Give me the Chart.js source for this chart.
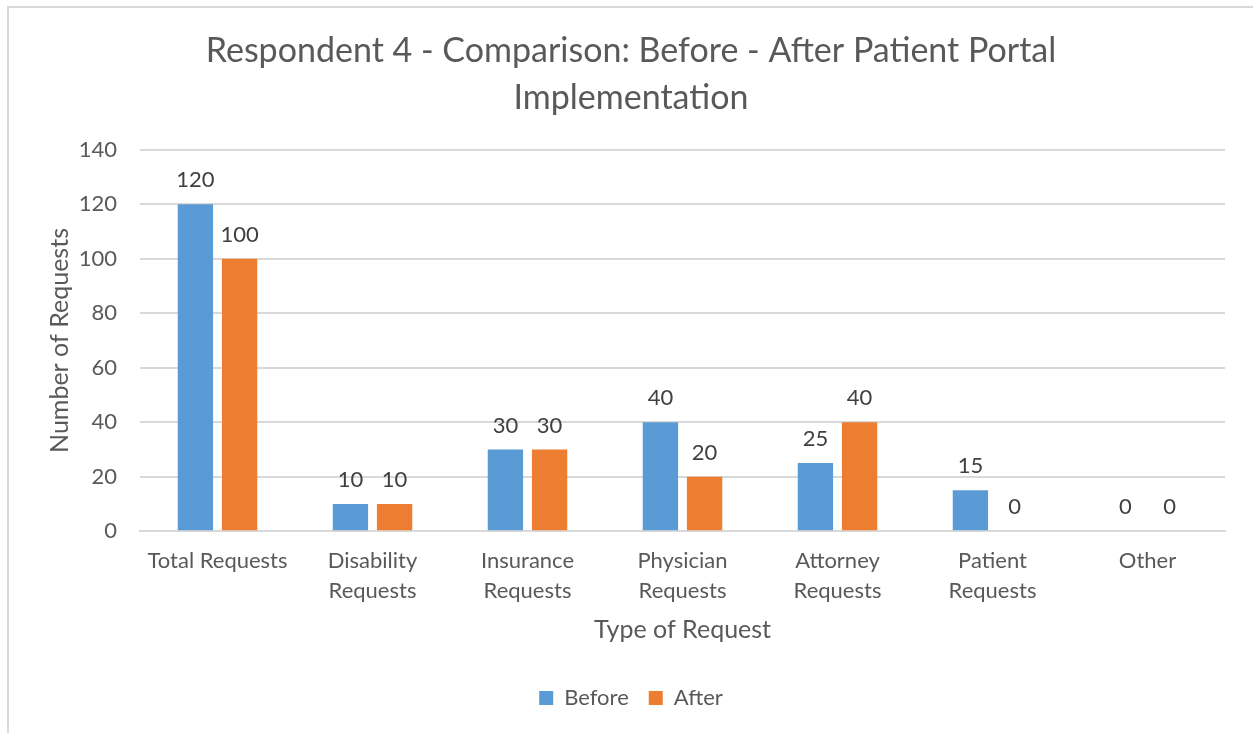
<!DOCTYPE html>
<html>
<head>
<meta charset="utf-8">
<script src="https://cdn.jsdelivr.net/npm/chart.js@4"></script>
<style>
  html, body { margin: 0; padding: 0; background: #fff; overflow: hidden; }
  #frame {
    position: absolute; left: 7px; top: 6px;
    width: 1260px; height: 740px;
    border: 2px solid #d9d9d9;
  }
  #wrap { position: absolute; left: 0; top: 0; width: 1244px; height: 725px; }
</style>
</head>
<body>
<div id="frame"><div id="wrap"><canvas id="chart"></canvas></div></div>
<script>
// categories + series
const categories = [
  ['Total Requests'],
  ['Disability', 'Requests'],
  ['Insurance', 'Requests'],
  ['Physician', 'Requests'],
  ['Attorney', 'Requests'],
  ['Patient', 'Requests'],
  ['Other']
]
const before = [120, 10, 30, 40, 25, 15, 0]
const after = [100, 10, 30, 20, 40, 0, 0]
const yTicks = [0, 20, 40, 60, 80, 100, 120, 140]

const FONT = 'Lato, "Open Sans", sans-serif'
const GREY = '#595959'

// draws the value above each bar
const valueLabels = {
  id: 'valueLabels',
  afterDatasetsDraw(chart) {
    const ctx = chart.ctx
    ctx.save()
    ctx.font = '22px ' + FONT
    ctx.fillStyle = '#404040'
    ctx.textAlign = 'center'
    ctx.textBaseline = 'middle'
    chart.data.datasets.forEach((ds, i) => {
      chart.getDatasetMeta(i).data.forEach((bar, j) => {
        ctx.fillText(String(ds.data[j]), bar.x, bar.y - 24)
      })
    })
    ctx.restore()
  }
}

new Chart(document.getElementById('chart'), {
  type: 'bar',
  data: {
    labels: categories,
    datasets: [
      { label: 'Before', data: before, backgroundColor: '#5b9bd5' },
      { label: 'After', data: after, backgroundColor: '#ed7d31' }
    ]
  },
  options: {
    responsive: true,
    maintainAspectRatio: false,
    animation: false,
    categoryPercentage: 0.57,
    barPercentage: 0.8,
    layout: { padding: { left: 28, right: 28, top: 0, bottom: 14 } },
    plugins: {
      title: {
        display: true,
        text: ['Respondent 4 - Comparison: Before - After Patient Portal', 'Implementation'],
        color: GREY,
        font: { family: FONT, size: 34, weight: 'normal', lineHeight: 1.38 },
        padding: { top: 20, bottom: 28 }
      },
      legend: {
        position: 'bottom',
        labels: {
          color: GREY,
          font: { family: FONT, size: 22 },
          boxWidth: 14, boxHeight: 14,
          padding: 20
        }
      },
      tooltip: { enabled: false }
    },
    scales: {
      x: {
        grid: { display: false },
        border: { color: '#d9d9d9', width: 2 },
        ticks: {
          color: GREY,
          font: { family: FONT, size: 22, lineHeight: 1.36 },
          maxRotation: 0,
          padding: 7
        },
        title: {
          display: true,
          text: 'Type of Request',
          color: GREY,
          font: { family: FONT, size: 25 },
          padding: { top: 2, bottom: 22 }
        }
      },
      y: {
        min: 0, max: 140,
        afterBuildTicks: s => { s.ticks = yTicks.map(v => ({ value: v })) },
        afterFit: s => { s.width = 103 },
        grid: { color: '#d9d9d9', lineWidth: 2, drawTicks: false },
        border: { display: false },
        ticks: {
          color: GREY,
          font: { family: FONT, size: 22 },
          padding: 23
        },
        title: {
          display: true,
          text: 'Number of Requests',
          color: GREY,
          font: { family: FONT, size: 25 },
          padding: { top: 8, bottom: 0 }
        }
      }
    }
  },
  plugins: [valueLabels]
})
</script>
</body>
</html>
